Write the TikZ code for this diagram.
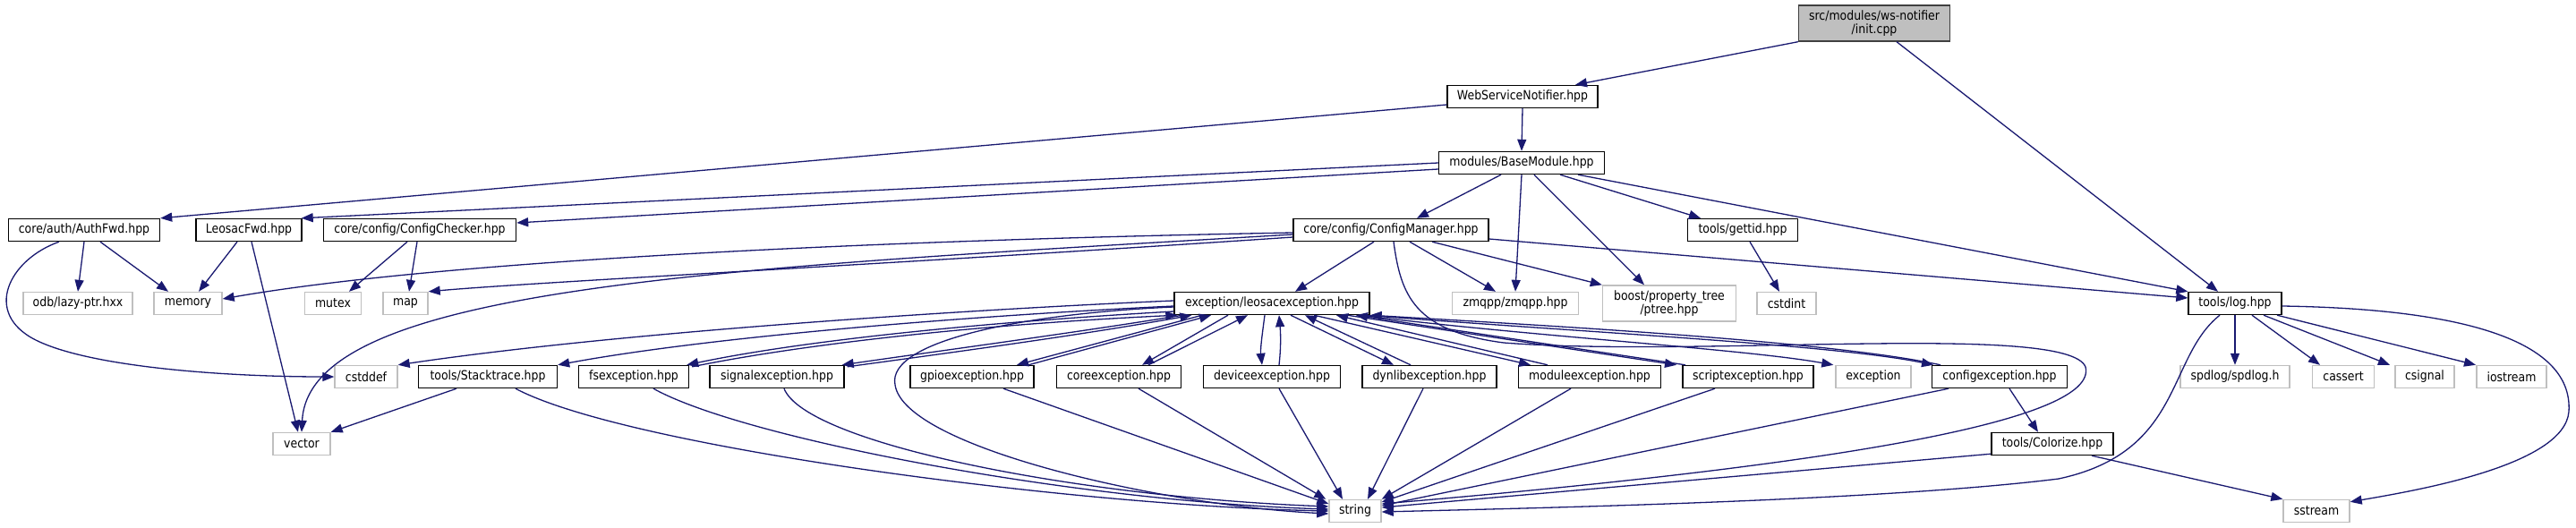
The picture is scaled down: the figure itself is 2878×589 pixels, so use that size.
\documentclass[tikz,border=0pt]{standalone}
\usepackage{fontspec}
\setmainfont{DejaVu Sans}[FakeStretch=0.88]
\usetikzlibrary{arrows.meta,calc}
\definecolor{edgec}{HTML}{191970}
\definecolor{extc}{HTML}{BFBFBF}
\begin{document}
\begin{tikzpicture}[x=1pt,y=-1pt,
  box/.style={rectangle, inner xsep=0pt, inner ysep=0pt, minimum height=25pt, font=\fontsize{14.2}{15.5}\selectfont, line width=1.4pt, fill=white},
  doc/.style={box, draw=black},
  ext/.style={box, draw=extc},
  srcbox/.style={box, draw=black!75, fill=extc, align=center, minimum height=40pt},
  extwo/.style={ext, align=center, minimum height=40pt},
  dep/.style={draw=edgec, line width=1.3pt, -{Triangle[length=13pt,width=10pt]}},
]
\fill[white] (0,0) rectangle (2878,589);
\useasboundingbox (0,0) rectangle (2878,589);

% nodes
\node[srcbox, minimum width=169pt] (init) at (2094,26) {src/modules/ws-notifier\\/init.cpp};
\node[doc, minimum width=168pt] (wsn) at (1701,108) {WebServiceNotifier.hpp};
\node[doc, minimum width=185pt] (base) at (1700,182) {modules/BaseModule.hpp};
\node[doc, minimum width=169pt] (authfwd) at (94,257) {core/auth/AuthFwd.hpp};
\node[doc, minimum width=118pt] (leosacfwd) at (278,257) {LeosacFwd.hpp};
\node[doc, minimum width=215pt] (checker) at (469,257) {core/config/ConfigChecker.hpp};
\node[doc, minimum width=218pt] (cfgmgr) at (1554,257) {core/config/ConfigManager.hpp};
\node[doc, minimum width=123pt] (gettid) at (1947,257) {tools/gettid.hpp};
\node[ext, minimum width=122pt] (lazyptr) at (87,339) {odb/lazy-ptr.hxx};
\node[ext, minimum width=76pt] (memory) at (210,339) {memory};
\node[ext, minimum width=63pt] (mutex) at (372,339) {mutex};
\node[ext, minimum width=50pt] (map) at (453,339) {map};
\node[doc, minimum width=218pt] (leosac) at (1421,339) {exception/leosacexception.hpp};
\node[ext, minimum width=141pt] (zmqpp) at (1693,339) {zmqpp/zmqpp.hpp};
\node[extwo, minimum width=149pt] (boost) at (1865,339) {boost/property\_tree\\/ptree.hpp};
\node[ext, minimum width=66pt] (cstdint) at (1996,339) {cstdint};
\node[doc, minimum width=104pt] (log) at (2497,339) {tools/log.hpp};
\node[ext, minimum width=70pt] (cstddef) at (409,421) {cstddef};
\node[doc, minimum width=155pt] (stack) at (545,421) {tools/Stacktrace.hpp};
\node[doc, minimum width=123pt] (fs) at (708,421) {fsexception.hpp};
\node[doc, minimum width=150pt] (signal) at (868,421) {signalexception.hpp};
\node[doc, minimum width=138pt] (gpio) at (1086,421) {gpioexception.hpp};
\node[doc, minimum width=139pt] (core) at (1250,421) {coreexception.hpp};
\node[doc, minimum width=153pt] (device) at (1421,421) {deviceexception.hpp};
\node[doc, minimum width=150pt] (dynlib) at (1597,421) {dynlibexception.hpp};
\node[doc, minimum width=159pt] (module) at (1776,421) {moduleexception.hpp};
\node[doc, minimum width=146pt] (script) at (1953,421) {scriptexception.hpp};
\node[ext, minimum width=84pt] (exception) at (2093,421) {exception};
\node[doc, minimum width=151pt] (configexc) at (2234,421) {configexception.hpp};
\node[ext, minimum width=122pt] (spdlog) at (2497,421) {spdlog/spdlog.h};
\node[ext, minimum width=69pt] (cassert) at (2618,421) {cassert};
\node[ext, minimum width=66pt] (csignal) at (2709,421) {csignal};
\node[ext, minimum width=78pt] (iostream) at (2806,421) {iostream};
\node[ext, minimum width=64pt] (vector) at (337,496) {vector};
\node[doc, minimum width=136pt] (colorize) at (2293,496) {tools/Colorize.hpp};
\node[ext, minimum width=58pt] (string) at (1514,571) {string};
\node[ext, minimum width=74pt] (sstream) at (2588,571) {sstream};

% init.cpp
\draw[dep] (init.south west) -- ([xshift=59pt]wsn.north);
\draw[dep] ([xshift=25pt]init.south) -- ([xshift=-19pt]log.north);
% WebServiceNotifier
\draw[dep] (wsn.south) -- (base.north);
\draw[dep] ([yshift=-9pt]wsn.west) -- (authfwd.north east);
% BaseModule
\draw[dep] (base.west) -- ([xshift=-1pt]leosacfwd.north east);
\draw[dep] ([yshift=-7pt]base.west) -- ([yshift=8pt]checker.east);
\draw[dep] ([xshift=-23pt]base.south) -- ([xshift=29pt]cfgmgr.north);
\draw[dep] (base.south) -- (zmqpp.north);
\draw[dep] ([xshift=14pt]base.south) -- ([xshift=-28pt]boost.north);
\draw[dep] ([xshift=43pt]base.south) -- ([xshift=-47pt]gettid.north);
\draw[dep] ([xshift=63pt]base.south) -- (log.north west);
% AuthFwd
\draw[dep] (authfwd.south) -- (lazyptr.north);
\draw[dep] ([xshift=18pt]authfwd.south) -- ([xshift=-22pt]memory.north);
\draw[dep] ([xshift=-28pt]authfwd.south) .. controls (10,290) and (-20,350) .. (40,380) .. controls (100,410) and (250,421) .. (cstddef.west);
% LeosacFwd
\draw[dep] ([xshift=-13pt]leosacfwd.south) -- ([xshift=12pt]memory.north);
\draw[dep] ([xshift=3pt]leosacfwd.south) -- ([xshift=-4pt]vector.north);
% ConfigChecker
\draw[dep] ([xshift=-14pt]checker.south) -- ([xshift=18pt]mutex.north);
\draw[dep] ([xshift=-3pt]checker.south) -- ([xshift=4pt]map.north);
% ConfigManager
\draw[dep] ([yshift=-3pt]cfgmgr.west) .. controls (1000,268) and (500,290) .. ([yshift=5pt]memory.east);
\draw[dep] ([yshift=-8pt]cfgmgr.west) .. controls (1000,295) and (600,315) .. (map.north east);
\draw[dep] ([yshift=-5pt]cfgmgr.west) .. controls (800,300) and (345,320) .. (vector.north);
\draw[dep] ([xshift=-19pt]cfgmgr.south) -- ([xshift=26pt]leosac.north);
\draw[dep] ([xshift=21pt]cfgmgr.south) -- ([xshift=-22pt]zmqpp.north);
\draw[dep] ([xshift=46pt]cfgmgr.south) -- (boost.north west);
\draw[dep] ([yshift=-10pt]cfgmgr.east) -- ([yshift=6pt]log.west);
\draw[dep] ([xshift=3pt]cfgmgr.south) .. controls (1565,330) and (1580,370) .. (1680,383) .. controls (1900,400) and (2310,360) .. (2330,410) .. controls (2345,470) and (2050,520) .. ([yshift=8pt]string.east);
% gettid
\draw[dep] ([xshift=8pt]gettid.south) -- ([xshift=-8pt]cstdint.north);
% log
\draw[dep] ([xshift=-17pt]log.south) .. controls (2420,400) and (2440,505) .. (2300,535) .. controls (2100,560) and (1700,568) .. ([yshift=-1pt]string.east);
\draw[dep] (log.south) -- (spdlog.north);
\draw[dep] ([xshift=19pt]log.south) -- ([xshift=-26pt]cassert.north);
\draw[dep] ([xshift=32pt]log.south) -- ([xshift=-39pt]csignal.north);
\draw[dep] ([xshift=47pt]log.south) -- ([xshift=-40pt]iostream.north);
\draw[dep] ([yshift=-3pt]log.east) .. controls (2750,345) and (2875,380) .. (2870,460) .. controls (2865,520) and (2700,548) .. ([yshift=-3pt]sstream.north east);
% Colorize
\draw[dep] ([yshift=2pt]colorize.south west) -- ([yshift=4pt]string.east);
\draw[dep] ([xshift=44pt]colorize.south) -- (sstream.north west);
% configexception
\draw[dep] ([xshift=11pt]configexc.south) -- ([xshift=-16pt]colorize.north);
\draw[dep] ([xshift=-57pt]configexc.south) -- ([yshift=6pt]string.east);
% exceptions -> string
\draw[dep] ([xshift=-37pt]script.south) -- ([yshift=10pt]string.east);
\draw[dep] ([xshift=-21pt]module.south) -- (string.north east);
\draw[dep] ([xshift=-7pt]dynlib.south) -- ([xshift=14pt]string.north);
\draw[dep] ([xshift=8pt]device.south) -- ([xshift=-14pt]string.north);
\draw[dep] ([xshift=22pt]core.south) -- ([xshift=-3pt]string.north west);
\draw[dep] ([xshift=35pt]gpio.south) -- ([yshift=8pt]string.west);
\draw[dep] ([xshift=8pt]signal.south) .. controls (900,495) and (1200,555) .. ([yshift=5pt]string.west);
\draw[dep] ([xshift=22pt]fs.south) .. controls (830,490) and (1200,560) .. ([yshift=2pt]string.west);
\draw[dep] ([xshift=31pt]stack.south) .. controls (700,500) and (1200,565) .. (string.west);
\draw[dep] ([yshift=-4pt]leosac.west) .. controls (1150,350) and (990,380) .. (1000,430) .. controls (1010,500) and (1300,565) .. ([yshift=-3pt]string.west);
% Stacktrace
\draw[dep] ([xshift=-35pt]stack.south) -- (vector.north east);
% leosacexception
\draw[dep] ([yshift=3pt]leosac.west) .. controls (1100,345) and (700,370) .. (cstddef.north east);
\draw[dep] ([yshift=-3pt]leosac.west) .. controls (1100,352) and (800,375) .. (stack.north east);
\draw[dep] ([yshift=-9pt]leosac.west) .. controls (1100,360) and (900,380) .. ([xshift=-3pt]fs.north east);
\draw[dep] ([xshift=3pt,yshift=-2pt]fs.north east) .. controls (905,383) and (1105,362) .. ([xshift=4pt]leosac.south west);
\draw[dep] ([xshift=10pt]leosac.south west) .. controls (1200,372) and (1050,392) .. ([xshift=-3pt]signal.north east);
\draw[dep] ([xshift=3pt,yshift=-2pt]signal.north east) .. controls (1055,395) and (1205,375) .. ([xshift=20pt]leosac.south west);
\draw[dep] ([xshift=-78pt]leosac.south) -- ([xshift=50pt]gpio.north);
\draw[dep] ([xshift=63pt]gpio.north) -- ([xshift=-68pt]leosac.south);
\draw[dep] ([xshift=-49pt]leosac.south) -- ([xshift=26pt]core.north);
\draw[dep] ([xshift=33pt]core.north) -- ([xshift=-27pt]leosac.south);
\draw[dep] ([xshift=-8pt]leosac.south) .. controls (1410,375) and (1408,390) .. ([xshift=-11pt]device.north);
\draw[dep] ([xshift=8pt]device.north) .. controls (1431,390) and (1431,375) .. ([xshift=8pt]leosac.south);
\draw[dep] ([xshift=21pt]leosac.south) -- ([xshift=-40pt]dynlib.north);
\draw[dep] ([xshift=-21pt]dynlib.north) -- ([xshift=37pt]leosac.south);
\draw[dep] ([xshift=47pt]leosac.south) -- ([xshift=-66pt]module.north);
\draw[dep] ([xshift=-47pt]module.north) -- ([xshift=72pt]leosac.south);
\draw[dep] ([xshift=84pt]leosac.south) -- ([xshift=-80pt]script.north);
\draw[dep] ([xshift=-70pt]script.north) -- ([xshift=94pt]leosac.south);
\draw[dep] ([xshift=99pt]leosac.south) .. controls (1700,375) and (1950,390) .. ([xshift=-2pt]exception.north west);
\draw[dep] ([xshift=104pt]leosac.south) .. controls (1750,370) and (2050,385) .. ([xshift=-74pt]configexc.north);
\draw[dep] ([xshift=-66pt]configexc.north) .. controls (2050,382) and (1750,365) .. (leosac.south east);
\end{tikzpicture}
\end{document}
